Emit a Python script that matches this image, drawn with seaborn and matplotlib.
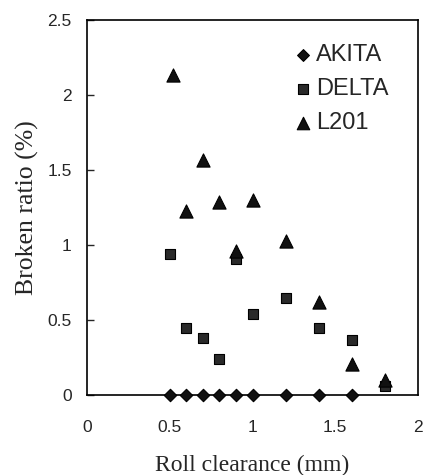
import matplotlib
matplotlib.use("Agg")
import matplotlib.pyplot as plt
import seaborn as sns
import pandas as pd

akita_x = [0.5, 0.6, 0.7, 0.8, 0.9, 1.0, 1.2, 1.4, 1.6]
akita_y = [0, 0, 0, 0, 0, 0, 0, 0, 0]
delta_x = [0.5, 0.6, 0.7, 0.8, 0.9, 1.0, 1.2, 1.4, 1.6, 1.8]
delta_y = [0.94, 0.45, 0.38, 0.24, 0.91, 0.54, 0.65, 0.45, 0.37, 0.06]
l201_x = [0.52, 0.6, 0.7, 0.8, 0.9, 1.0, 1.2, 1.4, 1.6, 1.8]
l201_y = [2.13, 1.23, 1.57, 1.29, 0.96, 1.30, 1.03, 0.62, 0.21, 0.10]
series = ["AKITA", "DELTA", "L201"]
xticks = [0, 0.5, 1, 1.5, 2]
yticks = [0, 0.5, 1, 1.5, 2, 2.5]

df = pd.concat([
    pd.DataFrame({"x": akita_x, "y": akita_y, "s": "AKITA"}),
    pd.DataFrame({"x": delta_x, "y": delta_y, "s": "DELTA"}),
    pd.DataFrame({"x": l201_x, "y": l201_y, "s": "L201"}),
])

sns.set_style("white")
plt.rcParams["font.family"] = ["Liberation Sans", "DejaVu Sans"]

fig = plt.figure(figsize=(4.23, 4.75), dpi=100)
ax = fig.add_axes([0.206, 0.168, 0.782, 0.79])

markers = {"AKITA": "D", "DELTA": "s", "L201": "^"}
sizes = {"AKITA": 40, "DELTA": 58, "L201": 90}
for name in series:
    sub = df[df["s"] == name]
    sns.scatterplot(data=sub, x="x", y="y", marker=markers[name], s=sizes[name],
                    color="#111111" if name != "DELTA" else "#2a2a2a",
                    edgecolor="black", linewidth=0.8, ax=ax, label=name,
                    clip_on=False, zorder=3)

ax.set_xlim(0, 2)
ax.set_ylim(0, 2.5)
ax.set_xticks(xticks)
ax.set_yticks(yticks)
ax.set_xticklabels(["0", "0.5", "1", "1.5", "2"])
ax.set_yticklabels(["0", "0.5", "1", "1.5", "2", "2.5"])
ax.tick_params(axis="y", direction="in", length=5, width=1, left=True, labelsize=12.5, pad=11)
ax.tick_params(axis="x", length=0, labelsize=12.5, pad=18)
for sp in ax.spines.values():
    sp.set_color("black")
    sp.set_linewidth(1.2)

ax.set_xlabel("Roll clearance (mm)", family=["Liberation Serif"], fontsize=17, labelpad=14)
ax.set_ylabel("Broken ratio (%)", family=["Liberation Serif"], fontsize=18.5, labelpad=6)

leg = ax.legend(loc="upper left", bbox_to_anchor=(0.618, 0.935), frameon=False,
                fontsize=17, handletextpad=0.05, borderaxespad=0, borderpad=0,
                labelspacing=0.5, handlelength=1.0, markerscale=0.95)

fig.savefig("out.png", dpi=100)
